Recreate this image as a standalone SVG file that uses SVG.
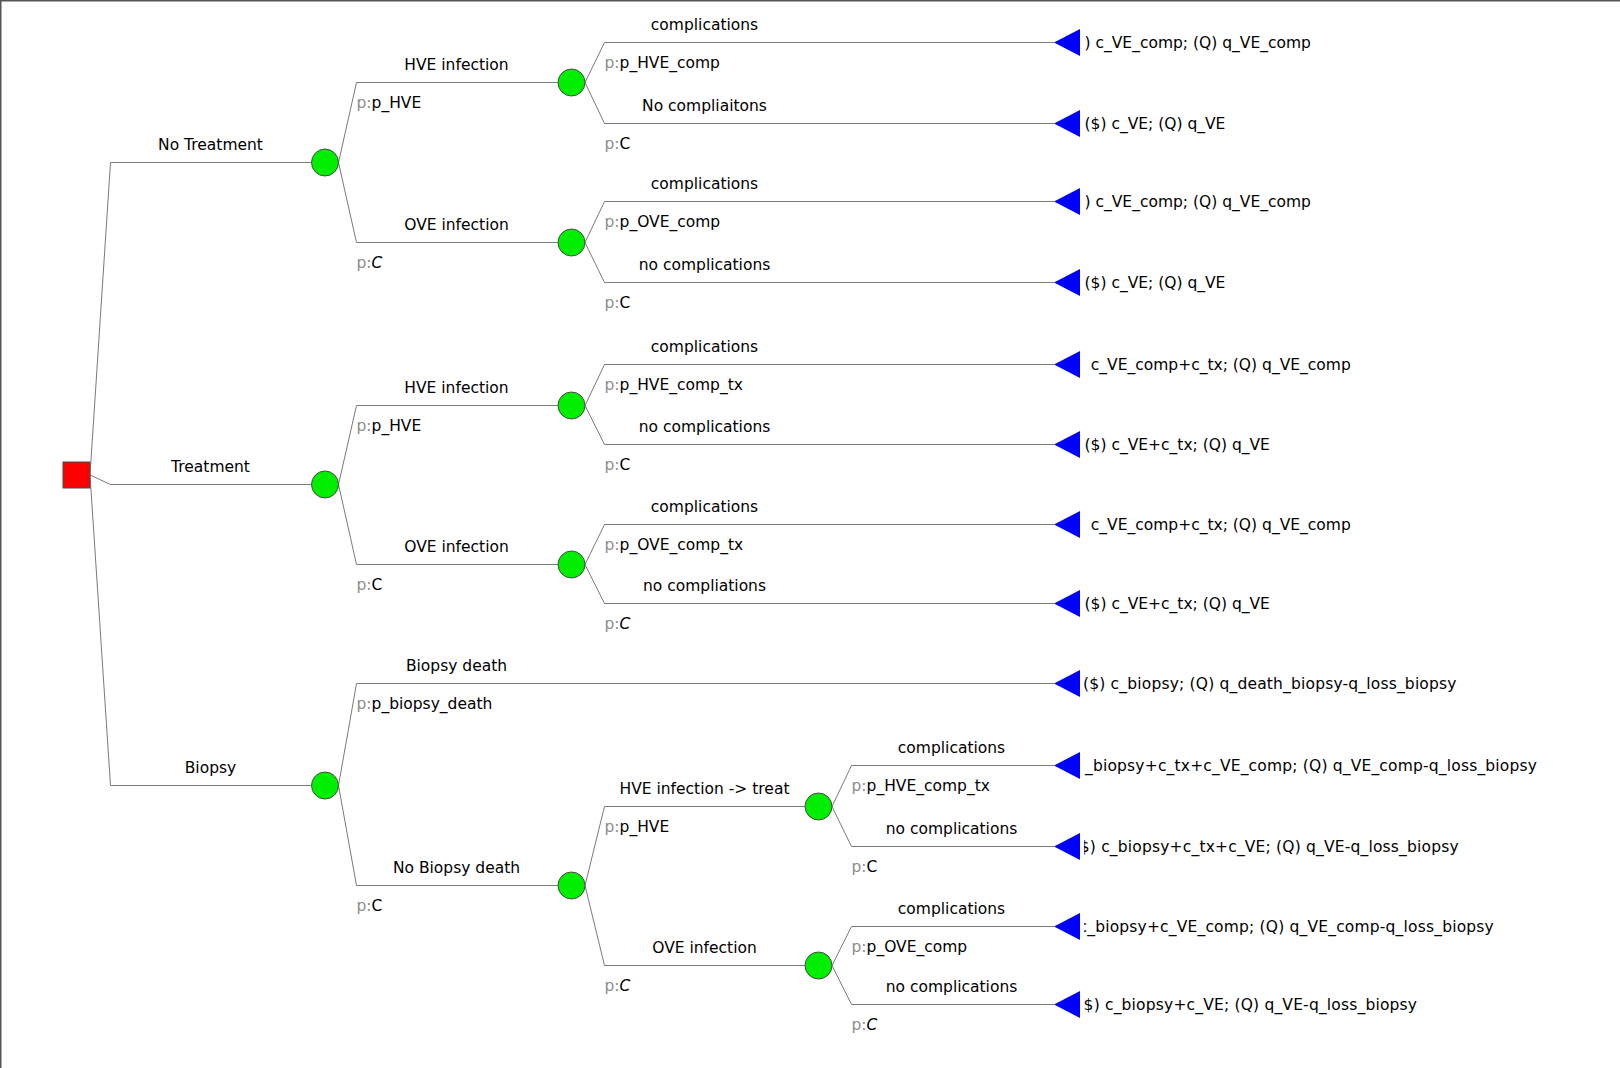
<svg xmlns="http://www.w3.org/2000/svg" width="1620" height="1068" viewBox="0 0 1620 1068">
<style>
text{font-family:"DejaVu Sans","Liberation Sans",sans-serif;font-size:15.5px;fill:#000}
.lbl{text-anchor:middle}
.pg{fill:#8c8c8c}
.it{font-style:italic}
.wide{letter-spacing:0.18px}
.edge{fill:none;stroke:#7a7a7a;stroke-width:1}
.chance{fill:#00ee00;stroke:#4a4a4a;stroke-width:1}
.dec{fill:#ff0000;stroke:#4a4a4a;stroke-width:1}
.term{fill:#0000ff;stroke:none}
.frame{fill:none;stroke:#555;stroke-width:1.5}
</style>
<defs>
<clipPath id="pclip"><rect x="1084" y="0" width="536" height="1068"/></clipPath>
</defs>
<rect x="0" y="0" width="1620" height="1068" fill="#fff"/>
<path class="frame" d="M0.75,1068 V0.75 H1620"/>

<g id="connectors">
<path class="edge" d="M90,475 L110.5,162.5 H311.5"/>
<path class="edge" d="M90,475 L110.5,484.5 H311.5"/>
<path class="edge" d="M90,475 L110.5,785.5 H311.5"/>
<path class="edge" d="M338.5,162.5 L356.5,82.5 H558"/>
<path class="edge" d="M338.5,162.5 L356.5,242.5 H558"/>
<path class="edge" d="M338.5,484.5 L356.5,405.5 H558"/>
<path class="edge" d="M338.5,484.5 L356.5,564.5 H558"/>
<path class="edge" d="M338.5,785.5 L356.5,683.5 H1054"/>
<path class="edge" d="M338.5,785.5 L356.5,885.5 H558"/>
<path class="edge" d="M585,82.5 L604.5,42.5 H1054"/>
<path class="edge" d="M585,82.5 L604.5,123.5 H1054"/>
<path class="edge" d="M585,242.5 L604.5,201.5 H1054"/>
<path class="edge" d="M585,242.5 L604.5,282.5 H1054"/>
<path class="edge" d="M585,405.5 L604.5,364.5 H1054"/>
<path class="edge" d="M585,405.5 L604.5,444.5 H1054"/>
<path class="edge" d="M585,564.5 L604.5,524.5 H1054"/>
<path class="edge" d="M585,564.5 L604.5,603.5 H1054"/>
<path class="edge" d="M585,885.5 L604.5,806.5 H805"/>
<path class="edge" d="M585,885.5 L604.5,965.5 H805"/>
<path class="edge" d="M832,806.5 L851.5,765.5 H1054"/>
<path class="edge" d="M832,806.5 L851.5,846.5 H1054"/>
<path class="edge" d="M832,965.5 L851.5,926.5 H1054"/>
<path class="edge" d="M832,965.5 L851.5,1004.5 H1054"/>
</g>

<g id="branch-labels">
<text class="lbl" x="210.5" y="150">No Treatment</text>
<text class="lbl" x="210.5" y="472">Treatment</text>
<text class="lbl" x="210.5" y="773">Biopsy</text>

<text class="lbl" x="456.5" y="70">HVE infection</text>
<text x="356.5" y="107.5"><tspan class="pg">p:</tspan>p_HVE</text>
<text class="lbl" x="456.5" y="230">OVE infection</text>
<text x="356.5" y="267.5"><tspan class="pg">p:</tspan><tspan class="it">C</tspan></text>
<text class="lbl" x="456.5" y="393">HVE infection</text>
<text x="356.5" y="430.5"><tspan class="pg">p:</tspan>p_HVE</text>
<text class="lbl" x="456.5" y="552">OVE infection</text>
<text x="356.5" y="589.5"><tspan class="pg">p:</tspan>C</text>
<text class="lbl" x="456.5" y="671">Biopsy death</text>
<text x="356.5" y="708.5"><tspan class="pg">p:</tspan>p_biopsy_death</text>
<text class="lbl" x="456.5" y="873">No Biopsy death</text>
<text x="356.5" y="910.5"><tspan class="pg">p:</tspan>C</text>

<text class="lbl" x="704.5" y="30">complications</text>
<text x="604.5" y="67.5"><tspan class="pg">p:</tspan>p_HVE_comp</text>
<text class="lbl" x="704.5" y="111">No compliaitons</text>
<text x="604.5" y="148.5"><tspan class="pg">p:</tspan>C</text>
<text class="lbl" x="704.5" y="189">complications</text>
<text x="604.5" y="226.5"><tspan class="pg">p:</tspan>p_OVE_comp</text>
<text class="lbl" x="704.5" y="270">no complications</text>
<text x="604.5" y="307.5"><tspan class="pg">p:</tspan>C</text>
<text class="lbl" x="704.5" y="352">complications</text>
<text x="604.5" y="389.5"><tspan class="pg">p:</tspan>p_HVE_comp_tx</text>
<text class="lbl" x="704.5" y="432">no complications</text>
<text x="604.5" y="469.5"><tspan class="pg">p:</tspan>C</text>
<text class="lbl" x="704.5" y="512">complications</text>
<text x="604.5" y="549.5"><tspan class="pg">p:</tspan>p_OVE_comp_tx</text>
<text class="lbl" x="704.5" y="591">no compliations</text>
<text x="604.5" y="628.5"><tspan class="pg">p:</tspan><tspan class="it">C</tspan></text>
<text class="lbl" x="704.5" y="794">HVE infection -&gt; treat</text>
<text x="604.5" y="831.5"><tspan class="pg">p:</tspan>p_HVE</text>
<text class="lbl" x="704.5" y="953">OVE infection</text>
<text x="604.5" y="990.5"><tspan class="pg">p:</tspan><tspan class="it">C</tspan></text>

<text class="lbl" x="951.5" y="753">complications</text>
<text x="851.5" y="790.5"><tspan class="pg">p:</tspan>p_HVE_comp_tx</text>
<text class="lbl" x="951.5" y="834">no complications</text>
<text x="851.5" y="871.5"><tspan class="pg">p:</tspan>C</text>
<text class="lbl" x="951.5" y="914">complications</text>
<text x="851.5" y="951.5"><tspan class="pg">p:</tspan>p_OVE_comp</text>
<text class="lbl" x="951.5" y="992">no complications</text>
<text x="851.5" y="1029.5"><tspan class="pg">p:</tspan><tspan class="it">C</tspan></text>
</g>

<g id="decision"><rect class="dec" x="63" y="462" width="27" height="26"/></g>

<g id="chance-notx"><circle class="chance" cx="325" cy="162.5" r="13.5"/></g>
<g id="chance-tx"><circle class="chance" cx="325" cy="484.5" r="13.5"/></g>
<g id="chance-biopsy"><circle class="chance" cx="325" cy="785.5" r="13.5"/></g>
<g id="chance-notx-hve"><circle class="chance" cx="571.5" cy="82.5" r="13.5"/></g>
<g id="chance-notx-ove"><circle class="chance" cx="571.5" cy="242.5" r="13.5"/></g>
<g id="chance-tx-hve"><circle class="chance" cx="571.5" cy="405.5" r="13.5"/></g>
<g id="chance-tx-ove"><circle class="chance" cx="571.5" cy="564.5" r="13.5"/></g>
<g id="chance-nobiopsydeath"><circle class="chance" cx="571.5" cy="885.5" r="13.5"/></g>
<g id="chance-b-hve"><circle class="chance" cx="818.5" cy="806.5" r="13.5"/></g>
<g id="chance-b-ove"><circle class="chance" cx="818.5" cy="965.5" r="13.5"/></g>

<g id="term1"><polygon class="term" points="1054,42.5 1080,29 1080,56"/><text x="1084.5" y="47.5">) c_VE_comp; (Q) q_VE_comp</text></g>
<g id="term2"><polygon class="term" points="1054,123.5 1080,110 1080,137"/><text x="1084.5" y="128.5">($) c_VE; (Q) q_VE</text></g>
<g id="term3"><polygon class="term" points="1054,201.5 1080,188 1080,215"/><text x="1084.5" y="206.5">) c_VE_comp; (Q) q_VE_comp</text></g>
<g id="term4"><polygon class="term" points="1054,282.5 1080,269 1080,296"/><text x="1084.5" y="287.5">($) c_VE; (Q) q_VE</text></g>
<g id="term5"><polygon class="term" points="1054,364.5 1080,351 1080,378"/><text x="1090.8" y="369.5">c_VE_comp+c_tx; (Q) q_VE_comp</text></g>
<g id="term6"><polygon class="term" points="1054,444.5 1080,431 1080,458"/><text x="1084.5" y="449.5">($) c_VE+c_tx; (Q) q_VE</text></g>
<g id="term7"><polygon class="term" points="1054,524.5 1080,511 1080,538"/><text x="1090.8" y="529.5">c_VE_comp+c_tx; (Q) q_VE_comp</text></g>
<g id="term8"><polygon class="term" points="1054,603.5 1080,590 1080,617"/><text x="1084.5" y="608.5">($) c_VE+c_tx; (Q) q_VE</text></g>
<g id="term9"><polygon class="term" points="1054,683.5 1080,670 1080,697"/><text class="wide" clip-path="url(#pclip)" x="1083" y="688.5">($) c_biopsy; (Q) q_death_biopsy-q_loss_biopsy</text></g>
<g id="term10"><polygon class="term" points="1054,765.5 1080,752 1080,779"/><text class="wide" x="1085" y="770.5">_biopsy+c_tx+c_VE_comp; (Q) q_VE_comp-q_loss_biopsy</text></g>
<g id="term11"><polygon class="term" points="1054,846.5 1080,833 1080,860"/><text class="wide" clip-path="url(#pclip)" x="1079.8" y="851.5">$) c_biopsy+c_tx+c_VE; (Q) q_VE-q_loss_biopsy</text></g>
<g id="term12"><polygon class="term" points="1054,926.5 1080,913 1080,940"/><text class="wide" clip-path="url(#pclip)" x="1078.5" y="931.5">c_biopsy+c_VE_comp; (Q) q_VE_comp-q_loss_biopsy</text></g>
<g id="term13"><polygon class="term" points="1054,1004.5 1080,991 1080,1018"/><text class="wide" x="1083.6" y="1009.5">$) c_biopsy+c_VE; (Q) q_VE-q_loss_biopsy</text></g>
</svg>
